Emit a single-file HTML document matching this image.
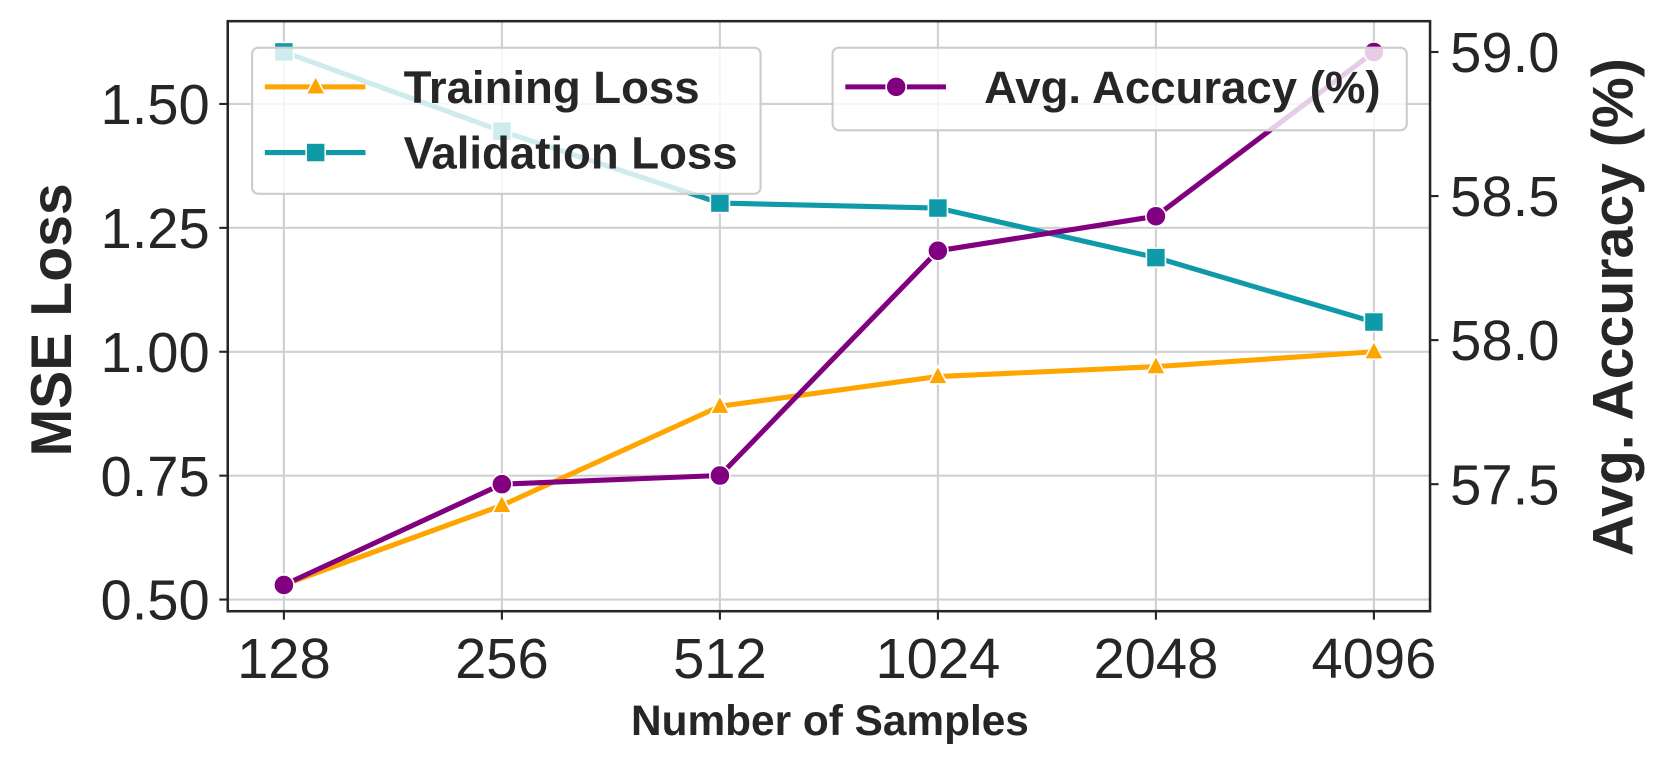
<!DOCTYPE html>
<html><head><meta charset="utf-8"><style>
html,body{margin:0;padding:0;background:#fff;overflow:hidden;}
svg{display:block;font-family:"Liberation Sans",Arial,sans-serif;}
</style></head><body>
<svg width="1661" height="769"><g id="chart" transform="scale(1.0593)"></g></svg>
<script>
const categories=["128","256","512","1024","2048","4096"];
const trainingLoss=[0.53,0.69,0.89,0.95,0.97,1.00];
const validationLoss=[1.605,1.445,1.30,1.29,1.19,1.06];
const avgAccuracy=[57.15,57.50,57.53,58.31,58.43,59.00];
const leftTicks=[0.50,0.75,1.00,1.25,1.50];
const leftTickLabels=["0.50","0.75","1.00","1.25","1.50"];
const rightTicks=[57.5,58.0,58.5,59.0];
const rightTickLabels=["57.5","58.0","58.5","59.0"];

const NS="http://www.w3.org/2000/svg";
const svg=document.getElementById('chart');
const L=215,R=1350,T=20,B=577;
const yL0=0.4765,yL1=1.667,yR0=57.059,yR1=59.107;
const x=i=>268+i*(1297-268)/(categories.length-1);
const yl=v=>B-(v-yL0)/(yL1-yL0)*(B-T);
const yr=v=>B-(v-yR0)/(yR1-yR0)*(B-T);
function el(tag,a,parent){const e=document.createElementNS(NS,tag);for(const k in a)e.setAttribute(k,a[k]);(parent||svg).appendChild(e);return e;}
function txt(s,a){const e=el('text',a);e.textContent=s;return e;}

categories.forEach((c,i)=>{
  const g=el('line',{x1:x(i),x2:x(i),y1:T,y2:B,stroke:'#d0d0d0','stroke-width':2});
  
  
});
leftTicks.forEach(v=>{
  const g=el('line',{x1:L,x2:R,y1:yl(v),y2:yl(v),stroke:'#d0d0d0','stroke-width':2});
  
  
});

function marker(g,m,cx,cy,color){
  if(m==='tri')return el('polygon',{points:`${cx},${cy-10} ${cx-9},${cy+7} ${cx+9},${cy+7}`,fill:color,stroke:'#fff','stroke-width':1.5},g);
  if(m==='sq')return el('rect',{x:cx-9,y:cy-9,width:18,height:18,fill:color,stroke:'#fff','stroke-width':1.5},g);
  return el('circle',{cx,cy,r:9.5,fill:color,stroke:'#fff','stroke-width':1.5},g);
}
function series(vals,yf,color,m,name){
  const g=el('g',{});
  
  
  el('polyline',{points:vals.map((v,i)=>x(i)+','+yf(v)).join(' '),fill:'none',stroke:color,'stroke-width':4.8,'stroke-linejoin':'round'},g);
  vals.forEach((v,i)=>{
    const p=marker(g,m,x(i),yf(v),color);
    
    
  });
}
series(trainingLoss,yl,'#FFA500','tri','training-loss-line');
series(validationLoss,yl,'#0e9aa7','sq','validation-loss-line');
series(avgAccuracy,yr,'#800080','circ','avg-accuracy-line');

const fr=el('rect',{x:L,y:T,width:R-L,height:B-T,fill:'none',stroke:'#262626','stroke-width':2.4});



categories.forEach((c,i)=>{
  el('line',{x1:x(i),x2:x(i),y1:B,y2:B+8,stroke:'#262626','stroke-width':2});
  const t=txt(c,{x:x(i),y:640,'text-anchor':'middle','font-size':53,fill:'#262626'});
  
  
});
leftTicks.forEach((v,i)=>{
  el('line',{x1:L-8,x2:L,y1:yl(v),y2:yl(v),stroke:'#262626','stroke-width':2});
  const t=txt(leftTickLabels[i],{x:L-17,y:yl(v)+19,'text-anchor':'end','font-size':53,fill:'#262626'});
  
  
});
rightTicks.forEach((v,i)=>{
  el('line',{x1:R,x2:R+8,y1:yr(v),y2:yr(v),stroke:'#262626','stroke-width':2});
  const t=txt(rightTickLabels[i],{x:R+19,y:yr(v)+19,'text-anchor':'start','font-size':53,fill:'#262626'});
  
  
});

const xl=txt('Number of Samples',{x:(L+R)/2+1,y:694,'text-anchor':'middle','font-size':40,'font-weight':'bold',fill:'#262626'});


const ylab=txt('MSE Loss',{x:0,y:0,transform:`translate(67,302) rotate(-90)`,'text-anchor':'middle','font-size':54,'font-weight':'bold',fill:'#262626'});


const yrlab=txt('Avg. Accuracy (%)',{x:0,y:0,transform:`translate(1541,290) rotate(-90)`,'text-anchor':'middle','font-size':54,'font-weight':'bold',fill:'#262626'});



function legend(x0,y0,w,h,items,name){
  const g=el('g',{});
  
  
  el('rect',{x:x0,y:y0,width:w,height:h,rx:6,fill:'rgba(255,255,255,0.8)',stroke:'#cccccc','stroke-width':2},g);
  items.forEach((it,i)=>{
    const cy=y0+37+i*62;
    el('line',{x1:x0+12,x2:x0+107,y1:cy,y2:cy,stroke:it.c,'stroke-width':4.8},g);
    marker(g,it.m,x0+60,cy,it.c);
    const t=el('text',{x:x0+143,y:cy+15,'font-size':43,'font-weight':'bold',fill:'#262626'},g);
    t.textContent=it.t;
    
    
  });
}
legend(238,45,480,138,[{t:'Training Loss',c:'#FFA500',m:'tri'},{t:'Validation Loss',c:'#0e9aa7',m:'sq'}],'loss-legend');
legend(786,45,542,78,[{t:'Avg. Accuracy (%)',c:'#800080',m:'circ'}],'accuracy-legend');
</script>
</body></html>
